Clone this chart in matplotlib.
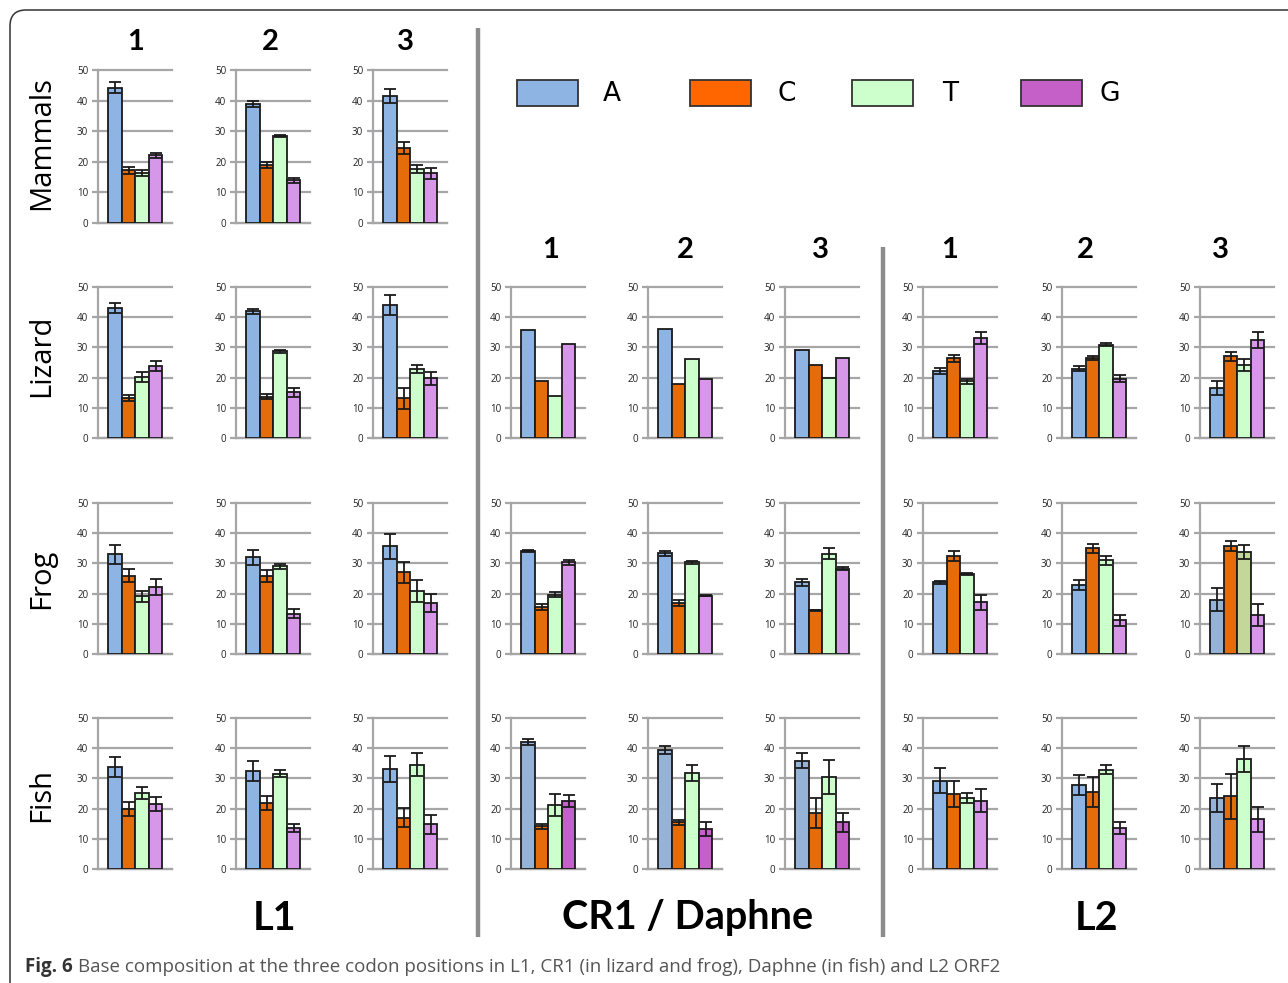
"""
Base composition at the three codon positions in L1, CR1/Daphne and L2
Small-multiple bar charts with error bars, laid out in pixel coordinates
"""

import numpy as np
import matplotlib
matplotlib.use('Agg')
import matplotlib.pyplot as plt
from matplotlib.patches import FancyBboxPatch, Rectangle

W, H = 1288, 983

BASES = ['A', 'C', 'T', 'G']
POSITIONS = ['1', '2', '3']
ROW_NAMES = ['Mammals', 'Lizard', 'Frog', 'Fish']

# L1 (mean %, error), one inner list per codon position
l1_mammals = [[44.2, 17.2, 16.4, 22.1], [38.8, 19.0, 28.4, 13.9], [41.4, 24.5, 17.6, 16.2]]
l1_mammals_err = [[1.8, 1.2, 1.0, 0.7], [1.0, 0.9, 0.2, 0.7], [2.3, 1.9, 1.3, 1.9]]
l1_lizard = [[43.1, 13.3, 20.2, 23.9], [41.9, 13.7, 28.7, 15.2], [43.9, 13.1, 22.9, 19.8]]
l1_lizard_err = [[1.6, 1.0, 1.6, 1.7], [0.8, 0.9, 0.5, 1.5], [3.3, 3.5, 1.4, 2.2]]
l1_frog = [[33.0, 25.9, 19.1, 22.3], [32.1, 25.9, 29.0, 13.4], [35.6, 27.0, 20.9, 16.9]]
l1_frog_err = [[3.2, 2.1, 1.8, 2.7], [2.5, 2.0, 0.8, 1.5], [4.0, 3.5, 3.7, 2.9]]
l1_fish = [[33.8, 19.8, 25.2, 21.4], [32.5, 22.0, 31.5, 13.7], [33.1, 17.0, 34.6, 14.8]]
l1_fish_err = [[3.4, 2.3, 2.0, 2.3], [3.3, 2.3, 1.2, 1.3], [4.3, 3.1, 3.7, 3.1]]

# CR1 (lizard, frog) / Daphne (fish)
cr1_lizard = [[35.9, 19.0, 14.0, 31.1], [36.0, 18.0, 26.3, 19.7], [29.3, 24.2, 19.9, 26.5]]
cr1_frog = [[34.2, 15.6, 19.6, 30.4], [33.3, 16.8, 30.3, 19.3], [23.8, 14.5, 33.2, 28.3]]
cr1_frog_err = [[0.3, 1.0, 0.8, 0.8], [0.8, 1.0, 0.5, 0.2], [1.2, 0.1, 1.8, 0.5]]
daphne_fish = [[42.0, 14.1, 21.1, 22.6], [39.5, 15.5, 31.8, 13.3], [35.9, 18.5, 30.4, 15.4]]
daphne_fish_err = [[1.0, 0.9, 3.6, 2.0], [1.3, 0.8, 2.8, 2.3], [2.5, 5.0, 5.6, 3.1]]

# L2 ORF2
l2_lizard = [[22.1, 26.4, 18.8, 33.0], [23.0, 26.5, 30.9, 19.6], [16.5, 27.0, 24.2, 32.4]]
l2_lizard_err = [[1.0, 1.2, 0.8, 2.0], [0.7, 0.7, 0.6, 1.1], [2.3, 1.4, 2.0, 2.6]]
l2_frog = [[23.8, 32.5, 26.6, 17.2], [22.9, 35.0, 31.0, 11.1], [18.0, 35.7, 33.8, 12.9]]
l2_frog_err = [[0.5, 1.6, 0.3, 2.5], [1.6, 1.5, 1.6, 1.8], [3.7, 1.6, 2.2, 3.6]]
l2_fish = [[29.3, 24.8, 23.5, 22.6], [27.8, 25.6, 32.9, 13.6], [23.5, 24.1, 36.3, 16.4]]
l2_fish_err = [[4.0, 4.3, 1.8, 3.8], [3.4, 5.0, 1.6, 2.1], [4.6, 7.4, 4.3, 4.2]]

# colours
BAR_COLORS = ['#8eb4e3', '#e46c0a', '#ccffcc', '#d797e8']
LEGEND_COLORS = ['#8db4e2', '#ff6600', '#ccffcc', '#c660c9']
DAPHNE_COLORS = ['#95b3d7', '#e46c0a', '#ccffcc', '#c660c9']
DULL_A = ['#95b3d7', '#e46c0a', '#ccffcc', '#d797e8']
DULL_AT = ['#95b3d7', '#e46c0a', '#c4d79b', '#d797e8']

GRID = '#a6a6a6'

fig = plt.figure(figsize=(W / 100, H / 100), dpi=100)

# overlay in pixel coordinates for frame, separators and text
ov = fig.add_axes([0, 0, 1, 1], zorder=0)
ov.set_xlim(0, W)
ov.set_ylim(H, 0)
ov.axis('off')


def px_axes(left, top, width, height):
    return fig.add_axes([left / W, 1 - (top + height) / H, width / W, height / H], zorder=2)


def draw_panel(left, top, bottom, means, errs=None, colors=BAR_COLORS):
    ax = px_axes(left, top, 74, bottom - top)
    ax.patch.set_alpha(0)
    x = np.arange(len(BASES))
    ax.bar(x, means, width=1.0, color=colors, edgecolor='#1a1a1a', linewidth=1.3, zorder=3)
    if errs is not None:
        ax.errorbar(x, means, yerr=errs, fmt='none', ecolor='#1a1a1a',
                    elinewidth=1.3, capsize=4, capthick=1.3, zorder=4)
    ax.set_xlim(-1.25, 4.2)
    ax.set_ylim(0, 50)
    ax.set_yticks([0, 10, 20, 30, 40, 50])
    ax.set_xticks([])
    ax.yaxis.grid(True, color=GRID, linewidth=1.6, zorder=0)
    ax.set_axisbelow(True)
    for s in ['top', 'right']:
        ax.spines[s].set_visible(False)
    ax.spines['left'].set_color(GRID)
    ax.spines['left'].set_linewidth(1.6)
    ax.spines['bottom'].set_color(GRID)
    ax.spines['bottom'].set_linewidth(1.6)
    ax.tick_params(axis='y', length=4, width=1.6, color=GRID, pad=3,
                   labelsize=7, labelcolor='#222222')
    for lab in ax.get_yticklabels():
        lab.set_fontfamily('Open Sans')
    for line in ax.get_ygridlines():
        line.set_clip_on(False)
    return ax


ROW_TOPS = [70, 287, 503, 718]
ROW_BOTTOMS = [223, 438, 654, 869]

L1_LEFTS = [98, 236, 373]
CR1_LEFTS = [511, 648, 785]
L2_LEFTS = [923, 1062, 1200]

l1_rows = [(l1_mammals, l1_mammals_err), (l1_lizard, l1_lizard_err),
           (l1_frog, l1_frog_err), (l1_fish, l1_fish_err)]
for r, (means, errs) in enumerate(l1_rows):
    for c in range(3):
        draw_panel(L1_LEFTS[c], ROW_TOPS[r], ROW_BOTTOMS[r], means[c], errs[c])

cr1_rows = [(cr1_lizard, None), (cr1_frog, cr1_frog_err), (daphne_fish, daphne_fish_err)]
for r, (means, errs) in enumerate(cr1_rows):
    for c in range(3):
        cols = DAPHNE_COLORS if r == 2 else BAR_COLORS
        draw_panel(CR1_LEFTS[c], ROW_TOPS[r + 1], ROW_BOTTOMS[r + 1], means[c],
                   None if errs is None else errs[c], colors=cols)

l2_rows = [(l2_lizard, l2_lizard_err), (l2_frog, l2_frog_err), (l2_fish, l2_fish_err)]
for r, (means, errs) in enumerate(l2_rows):
    for c in range(3):
        cols = BAR_COLORS
        if c == 2 and r == 1:
            cols = DULL_AT
        elif c == 2 and r == 2:
            cols = DULL_A
        draw_panel(L2_LEFTS[c], ROW_TOPS[r + 1], ROW_BOTTOMS[r + 1], means[c], errs[c], colors=cols)

# frame
ov.add_patch(FancyBboxPatch((10, 10), 1300, 1000, boxstyle='round,pad=0,rounding_size=16',
                            facecolor='none', edgecolor='#333333', linewidth=1.1))

# separators
ov.plot([478, 478], [28, 937], color='#8c8c8c', linewidth=3.2, solid_capstyle='butt')
ov.plot([883, 883], [247, 937], color='#8c8c8c', linewidth=3.2, solid_capstyle='butt')

# column headers
head_kw = dict(fontsize=21, fontweight='bold', family='Lato', ha='center', va='center')
for x, p in zip([136, 270, 405], POSITIONS):
    ov.text(x, 42, p, **head_kw)
for x, p in zip([551, 685, 820], POSITIONS):
    ov.text(x, 250, p, **head_kw)
for x, p in zip([950, 1085, 1220], POSITIONS):
    ov.text(x, 250, p, **head_kw)

# row labels
for y, name in zip([143, 356, 579, 795], ROW_NAMES):
    ov.text(42, y, name, fontsize=21, family='Open Sans', rotation=90, ha='center', va='center')

# block labels
foot_kw = dict(fontsize=28.5, fontweight='bold', family='Lato', ha='center', va='center')
ov.text(275, 918, 'L1', **foot_kw)
ov.text(688, 918, 'CR1 / Daphne', **foot_kw)
ov.text(1097, 918, 'L2', **foot_kw)

# legend
for x0, tx, base, col in zip([517, 690, 852, 1021], [612, 787, 950, 1110], BASES, LEGEND_COLORS):
    ov.add_patch(Rectangle((x0, 80), 61, 26, facecolor=col, edgecolor='#333333', linewidth=1.3))
    ov.text(tx, 94, base, fontsize=19, family='Liberation Sans Narrow', ha='center', va='center')

# caption
fig.canvas.draw()
renderer = fig.canvas.get_renderer()
t1 = ov.text(25, 967, 'Fig. 6', fontsize=13.5, fontweight='bold', family='Open Sans',
             color='#333333', va='center', ha='left')
bb = t1.get_window_extent(renderer=renderer)
x_end = bb.x1 + 5
ov.text(x_end / W, 1 - 967 / H, 'Base composition at the three codon positions in L1, CR1 (in lizard and frog), '
        'Daphne (in fish) and L2 ORF2', transform=fig.transFigure, fontsize=13.5,
        family='Open Sans', color='#555555', va='center', ha='left')

fig.savefig('out.png', dpi=100)
